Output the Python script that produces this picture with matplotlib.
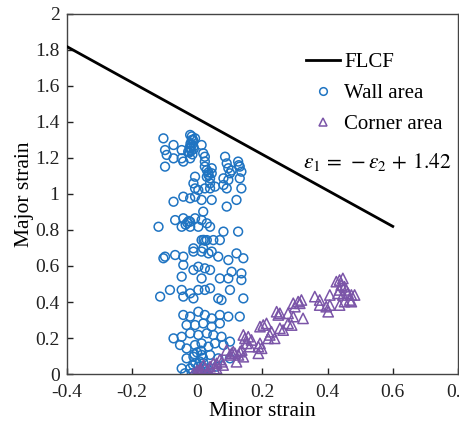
import matplotlib
matplotlib.use("Agg")
import matplotlib.pyplot as plt
from matplotlib.lines import Line2D

plt.rcParams['font.family'] = ['Liberation Serif', 'DejaVu Serif']
plt.rcParams['mathtext.fontset'] = 'stix'

# FLCF line endpoints (minor strain) and equation e1 = -e2 + 1.42
flcf_x = [-0.4, 0.6]
flcf_y = [1.82, 0.82]

wall_x = [-0.103, -0.098, -0.093, -0.098, -0.072, -0.072, -0.047, -0.047, -0.042,
          -0.021, -0.016, -0.016, -0.021, -0.027, -0.021, -0.011, -0.006,
          -0.018, -0.014, -0.020, -0.012, -0.022, -0.016, -0.010, -0.024,
          0.014, 0.019, 0.024, 0.024, 0.024, 0.030, 0.035, 0.045, 0.040,
          0.035, 0.045, 0.030, -0.006, -0.011, 0.040,
          0.086, 0.091, 0.096, 0.101, 0.096, 0.126, 0.131, 0.136, 0.131, 0.081, 0.081,
          0.128, 0.106,
          -0.006, 0.004, 0.024, 0.040, 0.055, 0.091, 0.136, -0.072, -0.042, -0.021,
          -0.006, 0.014, 0.045, 0.091, 0.121, -0.067, -0.042, -0.021, -0.006, 0.019,
          0.014, 0.030, 0.040, -0.021, -0.047, -0.118, 0.004, 0.081, 0.126, 0.014,
          0.030, 0.050, 0.070, -0.011, 0.019, -0.030, -0.025, -0.035, 0.020, 0.025,
          -0.103, -0.098, -0.067, -0.042, -0.011, 0.014, 0.035, 0.045, 0.065, 0.096,
          0.121, 0.142, -0.042, -0.011, 0.004, 0.024, 0.040, -0.047, 0.014, 0.070,
          0.096, 0.106, 0.136, 0.136, -0.113, -0.083, -0.047, -0.021, 0.004, 0.024,
          0.040, -0.042, -0.011, 0.065, 0.075, 0.101, 0.142,
          -0.042, -0.021, 0.004, 0.024, 0.045, 0.070, 0.096, 0.131, -0.032, -0.006,
          0.019, 0.045, 0.070, -0.072, -0.047, -0.021, 0.004, 0.030, 0.050, 0.075,
          -0.052, -0.032, -0.006, 0.014, 0.035, 0.055, 0.081, 0.101, -0.032, -0.011,
          0.014, 0.040, 0.065, 0.101, -0.047, -0.021, 0.004, 0.030, -0.016, -0.037,
          0.004, 0.030, 0.060, -0.005, 0.008, 0.000, 0.012, -0.008, 0.020, 0.002,
          0.010, -0.012, 0.018]
wall_y = [1.309, 1.244, 1.217, 1.152, 1.272, 1.198, 1.244, 1.198, 1.180,
          1.328, 1.300, 1.272, 1.254, 1.235, 1.198, 1.263, 1.309,
          1.240, 1.220, 1.280, 1.300, 1.260, 1.320, 1.250, 1.230,
          1.272, 1.226, 1.207, 1.180, 1.152, 1.133, 1.106, 1.143, 1.087,
          1.120, 1.115, 1.095, 1.096, 1.059, 1.059,
          1.207, 1.170, 1.143, 1.115, 1.078, 1.180, 1.152, 1.124, 1.087, 1.087, 1.050,
          1.160, 1.130,
          1.031, 1.022, 1.031, 1.031, 1.041, 1.031, 1.031, 0.957, 0.985, 0.976,
          0.985, 0.967, 0.967, 0.930, 0.967, 0.855, 0.865, 0.846, 0.865, 0.902,
          0.855, 0.837, 0.818, 0.818, 0.818, 0.818, 0.818, 0.791, 0.791, 0.744,
          0.744, 0.744, 0.744, 0.698, 0.698, 0.840, 0.850, 0.830, 0.745, 0.740,
          0.643, 0.652, 0.661, 0.652, 0.680, 0.680, 0.670, 0.680, 0.652, 0.633,
          0.670, 0.643, 0.606, 0.578, 0.596, 0.587, 0.578, 0.541, 0.531, 0.531,
          0.531, 0.568, 0.559, 0.522, 0.430, 0.467, 0.467, 0.448, 0.467, 0.467,
          0.476, 0.430, 0.420, 0.420, 0.411, 0.467, 0.420,
          0.328, 0.319, 0.346, 0.328, 0.309, 0.328, 0.319, 0.319, 0.272, 0.272,
          0.281, 0.263, 0.281, 0.198, 0.207, 0.226, 0.217, 0.226, 0.217, 0.207,
          0.161, 0.142, 0.161, 0.170, 0.152, 0.170, 0.161, 0.180, 0.087, 0.096,
          0.106, 0.106, 0.087, 0.087, 0.031, 0.031, 0.041, 0.031, 0.004, 0.004,
          0.004, 0.004, 0.041, 0.060, 0.070, 0.120, 0.130, 0.110, 0.060, 0.015,
          0.020, 0.050, 0.090]

corner_x = [0.437, 0.447, 0.427, 0.442, 0.452, 0.437, 0.457, 0.463, 0.447, 0.473,
            0.483, 0.432, 0.468, 0.452, 0.437, 0.473, 0.407, 0.407, 0.396, 0.402,
            0.376, 0.376, 0.361, 0.320, 0.310, 0.315, 0.295, 0.300, 0.295, 0.325,
            0.279, 0.290, 0.254, 0.249, 0.244, 0.279, 0.254, 0.264, 0.228, 0.223,
            0.218, 0.238, 0.203, 0.193, 0.213, 0.193, 0.188, 0.188, 0.198, 0.167,
            0.157, 0.147, 0.142, 0.142, 0.127, 0.116, 0.106, 0.137, 0.152, 0.162,
            0.091, 0.111, 0.101, 0.132, 0.121, 0.076, 0.060, 0.040, 0.024, 0.009,
            -0.001, -0.011, 0.009, 0.035, 0.055, 0.000, 0.020, 0.050, 0.070, 0.030,
            0.060, 0.080, 0.010]
corner_y = [0.522, 0.531, 0.513, 0.494, 0.485, 0.467, 0.467, 0.448, 0.439, 0.439,
            0.439, 0.448, 0.411, 0.402, 0.383, 0.402, 0.439, 0.383, 0.374, 0.346,
            0.411, 0.383, 0.430, 0.411, 0.402, 0.393, 0.393, 0.374, 0.319, 0.309,
            0.281, 0.272, 0.337, 0.328, 0.346, 0.337, 0.254, 0.244, 0.235, 0.217,
            0.198, 0.198, 0.272, 0.263, 0.281, 0.170, 0.152, 0.115, 0.143, 0.189,
            0.207, 0.198, 0.217, 0.096, 0.106, 0.115, 0.115, 0.133, 0.170, 0.152,
            0.133, 0.124, 0.106, 0.124, 0.068, 0.068, 0.059, 0.041, 0.031, 0.013,
            0.004, 0.004, 0.000, 0.013, 0.022, 0.020, 0.050, 0.060, 0.080, 0.005,
            0.030, 0.050, 0.030]

xticks = [-0.4, -0.2, 0, 0.2, 0.4, 0.6, 0.8]
xticklabels = ['-0.4', '-0.2', '0', '0.2', '0.4', '0.6', '0.8']
yticks = [0, 0.2, 0.4, 0.6, 0.8, 1.0, 1.2, 1.4, 1.6, 1.8, 2.0]
yticklabels = ['0', '0.2', '0.4', '0.6', '0.8', '1', '1.2', '1.4', '1.6', '1.8', '2']

blue = '#1f74c2'
purple = '#7b55a8'

fig = plt.figure(figsize=(4.6, 4.23), dpi=100)
ax = fig.add_axes([0.1446, 0.1158, 0.8511, 0.8512])

ax.plot(flcf_x, flcf_y, color='black', lw=2.0, zorder=3)
ax.scatter(wall_x, wall_y, s=40, facecolors='none', edgecolors=blue, linewidths=1.1, zorder=2)
ax.scatter(corner_x, corner_y, marker='^', s=55, facecolors='none', edgecolors=purple, linewidths=1.1, zorder=2)

ax.set_xlim(-0.4, 0.8)
ax.set_ylim(0, 2)
ax.set_xticks(xticks)
ax.set_xticklabels(xticklabels)
ax.set_yticks(yticks)
ax.set_yticklabels(yticklabels)
ax.tick_params(direction='in', length=4, width=1, labelsize=14, colors='#222222')
ax.tick_params(axis='x', pad=7)
ax.tick_params(axis='y', pad=5)
for sp in ax.spines.values():
    sp.set_linewidth(1.0)
    sp.set_color('#444444')

ax.set_xlabel('Minor strain', fontsize=15.5, labelpad=1)
ax.set_ylabel('Major strain', fontsize=15.5, labelpad=1)

handles = [Line2D([0], [0], color='black', lw=2.0),
           Line2D([0], [0], marker='o', ls='none', mfc='none', mec=blue, ms=5.5, mew=1.1),
           Line2D([0], [0], marker='^', ls='none', mfc='none', mec=purple, ms=5.5, mew=1.1)]
ax.legend(handles, ['FLCF', 'Wall area', 'Corner area'], loc='upper left',
          bbox_to_anchor=(0.565, 0.945), frameon=False, fontsize=15,
          handlelength=1.6, handletextpad=0.2, labelspacing=0.55)
ax.text(0.605, 0.59, r'$\varepsilon_1\,=\,-\varepsilon_2\,+\,1.42$', transform=ax.transAxes,
        fontsize=15.5, ha='left', va='center')

fig.savefig('out.png', dpi=100)
